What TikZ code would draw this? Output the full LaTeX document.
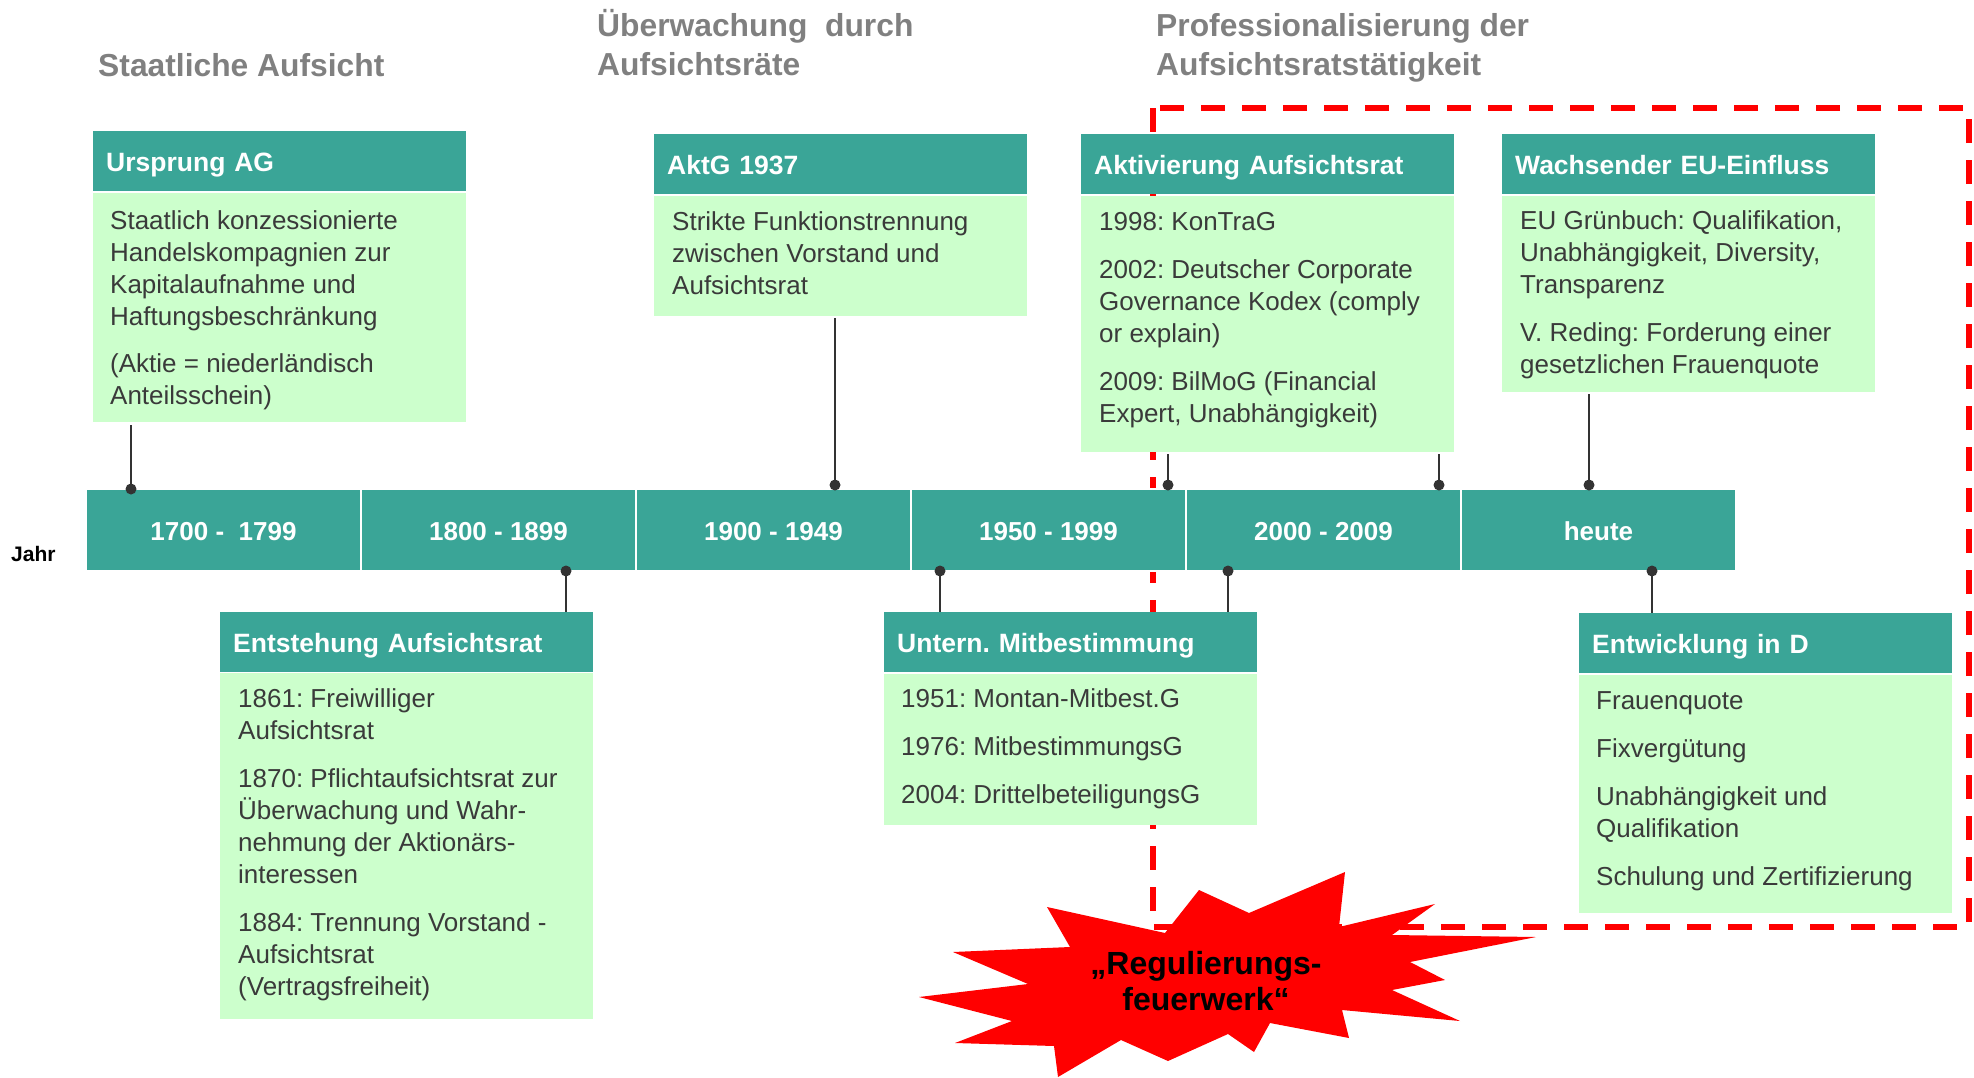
\documentclass[tikz,border=0pt]{standalone}
\usepackage{fontspec}
\setmainfont{Liberation Sans}
\frenchspacing
\definecolor{teal1}{HTML}{3AA597}
\definecolor{mint}{HTML}{CCFFCC}
\definecolor{bodytxt}{HTML}{3A3A3A}
\definecolor{titlegrey}{HTML}{808080}
\definecolor{conncol}{HTML}{333333}
\definecolor{burstred}{HTML}{FF0000}
\tikzset{
 hdr/.style={fill=teal1, anchor=north west, minimum width=373pt, minimum height=60pt, text width=347pt, inner xsep=13pt, inner ysep=0pt, text height=20pt, text depth=0pt, align=left, text=white, font=\fontsize{26.5}{30}\selectfont\bfseries},
 bodybox/.style={fill=mint, anchor=north west, minimum width=373pt, inner sep=0pt},
 bodytext/.style={anchor=base west, inner sep=0pt, text=bodytxt, font=\fontsize{26}{32}\selectfont},
 seg/.style={fill=teal1, draw=white, line width=2pt, minimum width=275pt, minimum height=82pt, inner sep=0pt, text height=21pt, text depth=0pt, text=white, font=\fontsize{26}{30}\selectfont\bfseries},
 ttl/.style={anchor=base west, inner sep=0pt, text=titlegrey, font=\fontsize{31.8}{39}\selectfont\bfseries},
 conn/.style={draw=conncol, line width=2.5pt},
 dotc/.style={fill=conncol},
 redframe/.style={draw=burstred, line width=5.5pt, dash pattern=on 24pt off 17pt},
}
\begin{document}
\frenchspacing
\begin{tikzpicture}[x=1pt,y=-1pt]
\useasboundingbox (0,0) rectangle (1974,1077);

% red dashed frame (behind everything)
\draw[redframe] (1153,108) rectangle (1969,927);

% titles
\node[ttl] (t1) at (98,76) {Staatliche Aufsicht};
\node[ttl] (t2) at (597,36) {\parbox[t]{420pt}{Überwachung\ \ durch\\Aufsichtsräte}};
\node[ttl] (t3) at (1156,36) {\parbox[t]{460pt}{Professionalisierung der\\Aufsichtsratstätigkeit}};

% timeline bar
\node[seg] (s1) at (223.5,529.5) {1700 - \ 1799};
\node[seg] (s2) at (498.5,529.5) {1800 - 1899};
\node[seg] (s3) at (773.5,529.5) {1900 - 1949};
\node[seg] (s4) at (1048.5,529.5) {1950 - 1999};
\node[seg] (s5) at (1323.5,529.5) {2000 - 2009};
\node[seg] (s6) at (1598.5,529.5) {heute};
\node[anchor=base west, inner sep=0pt, font=\fontsize{21}{25}\selectfont\bfseries] (jahr) at (11,561) {Jahr};

% top boxes
\node[hdr] (ursH) at (93,131) {Ursprung AG};
\node[bodybox, minimum height=229pt] (ursB) at (93,193) {};
\node[bodytext] (ursT) at (110,229) {\parbox[t]{350pt}{\raggedright Staatlich konzessionierte\\Handelskompagnien zur\\Kapitalaufnahme und\\Haftungsbeschränkung\\[15pt](Aktie = niederländisch\\Anteilsschein)}};

\node[hdr] (aktH) at (654,134) {AktG 1937};
\node[bodybox, minimum height=120pt] (aktB) at (654,196) {};
\node[bodytext] (aktT) at (672,230) {\parbox[t]{350pt}{\raggedright Strikte Funktionstrennung\\zwischen Vorstand und\\Aufsichtsrat}};

\node[hdr] (avH) at (1081,134) {Aktivierung Aufsichtsrat};
\node[bodybox, minimum height=256pt] (avB) at (1081,196) {};
\node[bodytext] (avT) at (1099,230) {\parbox[t]{350pt}{\raggedright 1998: KonTraG\\[16pt]2002: Deutscher Corporate\\Governance Kodex (comply\\or explain)\\[16pt]2009: BilMoG (Financial\\Expert, Unabhängigkeit)}};

\node[hdr] (euH) at (1502,134) {Wachsender EU-Einfluss};
\node[bodybox, minimum height=196pt] (euB) at (1502,196) {};
\node[bodytext] (euT) at (1520,229) {\parbox[t]{350pt}{\raggedright EU Grünbuch: Qualifikation,\\Unabhängigkeit, Diversity,\\Transparenz\\[16pt]V. Reding: Forderung einer\\gesetzlichen Frauenquote}};

% bottom boxes
\node[hdr] (entH) at (220,612) {Entstehung Aufsichtsrat};
\node[bodybox, minimum height=346pt] (entB) at (220,673) {};
\node[bodytext] (entT) at (238,707) {\parbox[t]{350pt}{\raggedright 1861: Freiwilliger\\Aufsichtsrat\\[16pt]1870: Pflichtaufsichtsrat zur\\Überwachung und Wahr-\\nehmung der Aktionärs-\\interessen\\[16pt]1884: Trennung Vorstand -\\Aufsichtsrat\\(Vertragsfreiheit)}};

\node[hdr] (mitH) at (884,612) {Untern. Mitbestimmung};
\node[bodybox, minimum height=151pt] (mitB) at (884,674) {};
\node[bodytext] (mitT) at (901,707) {\parbox[t]{350pt}{\raggedright 1951: Montan-Mitbest.G\\[16pt]1976: MitbestimmungsG\\[16pt]2004: DrittelbeteiligungsG}};

\node[hdr] (dH) at (1579,613) {Entwicklung in D};
\node[bodybox, minimum height=238pt] (dB) at (1579,675) {};
\node[bodytext] (dT) at (1596,709) {\parbox[t]{350pt}{\raggedright Frauenquote\\[16pt]Fixvergütung\\[16pt]Unabhängigkeit und\\Qualifikation\\[16pt]Schulung und Zertifizierung}};

% connectors
\coordinate (d1) at (131,489);
\coordinate (d2) at (835,485);
\coordinate (d3) at (1168,485);
\coordinate (d4) at (1439,485);
\coordinate (d5) at (1589,485);
\coordinate (d6) at (566,571);
\coordinate (d7) at (940,571);
\coordinate (d8) at (1228,571);
\coordinate (d9) at (1652,571);

\draw[conn] ([yshift=-3pt]ursB.south -| d1) -- (d1);
\draw[conn] ([yshift=-2pt]aktB.south -| d2) -- (d2);
\draw[conn] ([yshift=-2pt]avB.south -| d3) -- (d3);
\draw[conn] ([yshift=-2pt]avB.south -| d4) -- (d4);
\draw[conn] ([yshift=-2pt]euB.south -| d5) -- (d5);
\draw[conn] (d6) -- (entH.north -| d6);
\draw[conn] (d7) -- (mitH.north -| d7);
\draw[conn] (d8) -- (mitH.north -| d8);
\draw[conn] (d9) -- (dH.north -| d9);
\foreach \d in {d1,d2,d3,d4,d5,d6,d7,d8,d9} \fill[dotc] (\d) circle (5.5pt);

% burst
\fill[burstred] (919,997) -- (1028,984) -- (953,952) -- (1070,947) -- (1047,907) -- (1165,933)
 -- (1199,890) -- (1249,913) -- (1345,872) -- (1339,927) -- (1435,904) -- (1392,935)
 -- (1536,937) -- (1410,962) -- (1445,980) -- (1392,990) -- (1460,1021) -- (1342,1010)
 -- (1349,1038) -- (1270,1023) -- (1254,1052) -- (1228,1034) -- (1168,1061) -- (1121,1040)
 -- (1058,1077) -- (1054,1046) -- (955,1043) -- (1012,1021) -- cycle;
\node[anchor=base, inner sep=0pt, font=\fontsize{32}{36}\selectfont\bfseries] (burstT) at (1206,974) {\parbox[t]{340pt}{\centering „Regulierungs-\\feuerwerk“}};
\end{tikzpicture}
\end{document}
